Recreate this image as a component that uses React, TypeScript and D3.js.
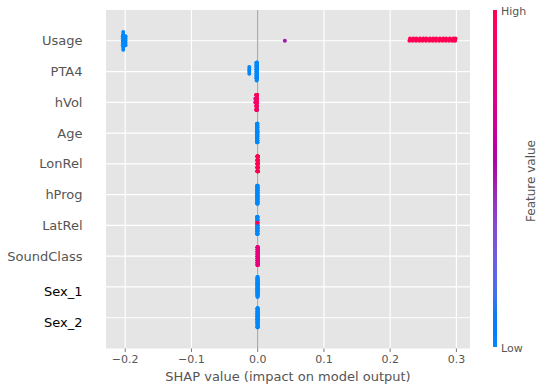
import React from 'react';
import * as d3 from 'd3';

// feature names, top to bottom
const features = ["Usage", "PTA4", "hVol", "Age", "LonRel", "hProg", "LatRel", "SoundClass", "Sex_1", "Sex_2"];

// observations per feature: [shap value, feature value (0 = low, 1 = high), count]
const usage = [
    [-0.2036, 0, 5], [-0.2030, 0, 4], [-0.1995, 0, 5], [0.041, 0.5, 1],
    [0.2290, 1, 1], [0.2300, 1, 1], [0.2340, 1, 1], [0.2350, 1, 1], [0.2390, 1, 1], [0.2395, 1, 1],
    [0.2440, 1, 1], [0.2450, 1, 1], [0.2490, 1, 1], [0.2500, 1, 1], [0.2540, 1, 1], [0.2545, 1, 1],
    [0.2590, 1, 1], [0.2600, 1, 1], [0.2640, 1, 1], [0.2650, 1, 1], [0.2690, 1, 1], [0.2695, 1, 1],
    [0.2740, 1, 1], [0.2750, 1, 1], [0.2790, 1, 1], [0.2800, 1, 1], [0.2840, 1, 1], [0.2845, 1, 1],
    [0.2890, 1, 1], [0.2900, 1, 1], [0.2940, 1, 1], [0.2950, 1, 1], [0.2980, 1, 1], [0.2986, 1, 1],
];
const pta4 = [[-0.0127, 0, 4], [-0.0017, 0, 8], [-0.0016, 0, 8], [-0.0015, 0, 9], [-0.0014, 0, 8], [-0.0013, 0, 8]];
const hVol = [
    [-0.0036, 0.6, 2], [-0.0020, 1, 5], [-0.0018, 0.7, 5], [-0.0017, 0.9, 5], [-0.0016, 0.65, 5],
    [-0.0015, 0.6, 5], [-0.0014, 1, 5], [-0.0013, 0.7, 5],
    [-0.0011, 0.7, 2], [-0.0011, 0, 1], [-0.0011, 0.7, 1], [-0.0011, 0, 1],
    [-0.0010, 0.7, 2], [-0.0010, 0, 1], [-0.0010, 0.7, 1], [-0.0010, 0, 1],
];
const age = [[-0.0008, 0, 11], [-0.0007, 0, 11], [-0.0006, 0, 11], [-0.0005, 0, 11], [-0.0004, 0, 1]];
const lonRel = [
    [-0.0005, 1, 5], [-0.0004, 1, 5], [-0.0003, 1, 5], [-0.0002, 1, 5], [-0.0001, 1, 5],
    [0.0, 1, 5], [0.0001, 1, 5], [0.0002, 1, 5], [0.0003, 1, 5],
];
const hProg = [[-0.0006, 0, 9], [-0.0005, 0, 9], [-0.0004, 0, 9], [-0.0003, 0, 9], [-0.0002, 0, 9]];
const latRel = [
    [-0.0007, 0, 7], [-0.0006, 0, 7], [-0.0005, 0, 1], [-0.0005, 1, 1], [-0.0005, 0, 5],
    [-0.0004, 0, 7], [-0.0003, 0, 7], [-0.0002, 0, 7], [-0.0001, 0, 3],
];
const soundClass = [[-0.0003, 0.8, 9], [-0.0002, 0.8, 9], [-0.0001, 0.8, 9], [0.0, 0.8, 9], [0.0001, 0.8, 9]];
const sex1 = [[-0.0003, 0, 17], [-0.0002, 0, 17], [-0.0001, 0, 11]];
const sex2 = [[-0.0003, 0, 13], [-0.0002, 0, 13], [-0.0001, 0, 13], [0.0, 0, 6]];

const featureData = [usage, pta4, hVol, age, lonRel, hProg, latRel, soundClass, sex1, sex2];
const xTicks = [-0.2, -0.1, 0.0, 0.1, 0.2, 0.3];

const W = 546, H = 388;
const plot = {left: 106, right: 470, top: 10, bottom: 348.5};
const rowHeight = 0.4;
// the last two labels sit a little lower and darker in the picture
const labelStyle = features.map(f => f.startsWith("Sex") ? {fill: "#000", dy: 9} : {fill: "#555", dy: 4.6});

// shap's red_blue map: lch from blue to red, with lightness dipping in the middle
const redBlue = (t) => {
    const l = t < 0.5 ? 54 - 28 * t : 40 + 28 * (t - 0.5);
    const c = 70 + 20 * t;
    const h = 266.93 + (380.32 - 266.93) * t;
    return d3.hcl(h, c, l).formatHex();
};

// shap style beeswarm: points are binned on x and stacked alternately up and down
function swarm(values) {
    const lo = d3.min(values), hi = d3.max(values);
    const quant = values.map(v => Math.round(100 * (v - lo) / (hi - lo + 1e-8)));
    const order = d3.range(values.length).sort((a, b) => quant[a] - quant[b] || a - b);
    const ys = values.map(() => 0);
    let layer = 0, last = -1;
    order.forEach(i => {
        if (quant[i] !== last) layer = 0;
        ys[i] = Math.ceil(layer / 2) * ((layer % 2) * 2 - 1);
        layer += 1;
        last = quant[i];
    });
    const top = d3.max(ys) + 1;
    return ys.map(y => y * 0.9 * rowHeight / top);
}

export default function App() {
    const n = features.length;
    const x = d3.scaleLinear().domain([-0.229, 0.3205]).range([plot.left, plot.right]);
    const y = d3.scaleLinear().domain([-1, n]).range([plot.bottom, plot.top]);
    const unit = y(0) - y(1);
    const fmt = d3.format(".1f");

    const rows = featureData.map((groups, i) => {
        const pts = [];
        groups.forEach(([v, f, c]) => d3.range(c).forEach(() => pts.push({v, f})));
        const offs = swarm(pts.map(p => p.v));
        const pos = n - 1 - i;
        const placed = pts.map((p, j) => ({...p, cy: y(pos) - offs[j] * unit}));
        return d3.sort(placed, p => p.f);
    });

    const stops = d3.range(0, 1.0001, 0.05);

    return (
        <svg width={W} height={H} style={{position: 'absolute', left: 0, top: 0}}
            fontFamily="DejaVu Sans">
            <defs>
                <linearGradient id="cbar" x1="0" y1="1" x2="0" y2="0">
                    {stops.map(t => <stop key={t} offset={t} stopColor={redBlue(t)} />)}
                </linearGradient>
            </defs>
            <rect x={plot.left} y={plot.top} width={plot.right - plot.left}
                height={plot.bottom - plot.top} fill="#e5e5e5" />
            {xTicks.map(t => (
                <line key={t} x1={x(t)} x2={x(t)} y1={plot.top} y2={plot.bottom} stroke="#fff" strokeWidth={1.2} />
            ))}
            {features.map((f, i) => (
                <line key={f} x1={plot.left} x2={plot.right} y1={y(n - 1 - i)} y2={y(n - 1 - i)}
                    stroke="#fff" strokeWidth={1.2} />
            ))}
            <line x1={x(0)} x2={x(0)} y1={plot.top} y2={plot.bottom} stroke="#999" strokeWidth={1} />

            {rows.map((pts, i) => (
                <g key={features[i]}>
                    {pts.map((p, j) => (
                        <circle key={j} cx={x(p.v)} cy={p.cy} r={2} fill={redBlue(p.f)} />
                    ))}
                </g>
            ))}

            {features.map((f, i) => (
                <text key={f} x={82.5} y={y(n - 1 - i) + labelStyle[i].dy} textAnchor="end" fontSize={13}
                    fill={labelStyle[i].fill}>{f}</text>
            ))}

            {xTicks.map(t => (
                <g key={t}>
                    <line x1={x(t)} x2={x(t)} y1={plot.bottom} y2={plot.bottom + 3.5} stroke="#555" strokeWidth={0.8} />
                    <text x={x(t)} y={362.5} textAnchor="middle" fontSize={11} fill="#555">{fmt(t)}</text>
                </g>
            ))}
            <text x={(plot.left + plot.right) / 2} y={380.5} textAnchor="middle" fontSize={13} fill="#555">
                SHAP value (impact on model output)
            </text>

            <rect x={493} y={plot.top} width={4} height={337} fill="url(#cbar)" />
            <text x={501} y={15} fontSize={11} fill="#555">High</text>
            <text x={501} y={352} fontSize={11} fill="#555">Low</text>
            <text transform="translate(535,181) rotate(-90)" textAnchor="middle" fontSize={12} fill="#555">
                Feature value
            </text>
        </svg>
    );
}
